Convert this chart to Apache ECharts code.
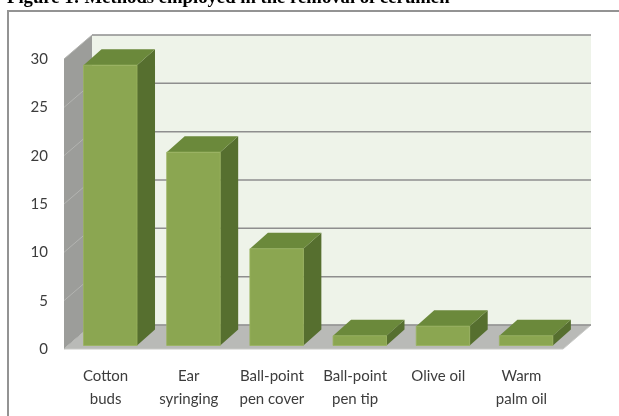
<!DOCTYPE html>
<html>
<head>
<meta charset="utf-8">
<script src="https://cdn.jsdelivr.net/npm/echarts@6/dist/echarts.min.js"></script>
<style>html,body{margin:0;padding:0;background:#fff;}#c{width:619px;height:416px;}</style>
</head>
<body>
<div id="c"></div>
<script>
var categories = ['Cotton\nbuds', 'Ear\nsyringing', 'Ball-point\npen cover', 'Ball-point\npen tip', 'Olive oil', 'Warm\npalm oil'];
var values = [29, 20, 10, 1, 2, 1];
var yTicks = [0, 5, 10, 15, 20, 25, 30];
var titleText = 'Figure 1: Methods employed in the removal of cerumen';

var DEPTH_X = 28, DEPTH_Y = -24;      // wall depth
var BAR_DX = 18, BAR_DY = -16;        // bar depth
var BAR_FRONT_DY = -3.5;

var chart = echarts.init(document.getElementById('c'), null, {renderer: 'canvas'});

function wallsRender(params, api) {
  var cs = params.coordSys;
  var y0 = api.coord([0, 0])[1];
  var yT = api.coord([0, 30])[1];
  var xL = cs.x, xR = cs.x + cs.width;
  return {
    type: 'group',
    children: [
      { type: 'polygon', shape: { points: [[xL + DEPTH_X, yT + DEPTH_Y], [xR + DEPTH_X, yT + DEPTH_Y], [xR + DEPTH_X, y0 + DEPTH_Y], [xL + DEPTH_X, y0 + DEPTH_Y]] },
        style: { fill: '#eef3e9' } },
      { type: 'polygon', shape: { points: [[xL, yT], [xL + DEPTH_X, yT + DEPTH_Y], [xL + DEPTH_X, y0 + DEPTH_Y], [xL, y0]] },
        style: { fill: '#9c9d9a' } },
      { type: 'polygon', shape: { points: [[xL, y0], [xL + DEPTH_X, y0 + DEPTH_Y], [xR + DEPTH_X, y0 + DEPTH_Y], [xR, y0]] },
        style: { fill: '#b9bab7', stroke: '#c9cac7', lineWidth: 1 } }
    ]
  };
}

function gridRender(params, api) {
  var cs = params.coordSys;
  var y = api.coord([0, api.value(1)])[1];
  var xL = cs.x, xR = cs.x + cs.width;
  return {
    type: 'group',
    children: [
      { type: 'line', shape: { x1: xL + DEPTH_X, y1: y + DEPTH_Y, x2: xR + DEPTH_X, y2: y + DEPTH_Y },
        style: { stroke: '#8e8e8e', lineWidth: 1.5 } },
      { type: 'line', shape: { x1: xL, y1: y, x2: xL + DEPTH_X, y2: y + DEPTH_Y },
        style: { stroke: '#b3b4b1', lineWidth: 1 } }
    ]
  };
}

function barRender(params, api) {
  var c0 = api.coord([api.value(0), 0]);
  var c1 = api.coord([api.value(0), api.value(1)]);
  var band = api.size([1, 0])[0];
  var w = band * 0.643;
  var xl = c0[0] - band * 0.265;
  var xr = xl + w;
  var yb = c0[1] + BAR_FRONT_DY;
  var yt = c1[1] + BAR_FRONT_DY;
  return {
    type: 'group',
    children: [
      { type: 'polygon', shape: { points: [[xr, yt], [xr + BAR_DX, yt + BAR_DY], [xr + BAR_DX, yb + BAR_DY], [xr, yb]] },
        style: { fill: '#566f2f' } },
      { type: 'polygon', shape: { points: [[xl, yt], [xl + BAR_DX, yt + BAR_DY], [xr + BAR_DX, yt + BAR_DY], [xr, yt]] },
        style: { fill: '#6b893b' } },
      { type: 'rect', shape: { x: xl, y: yt, width: w, height: yb - yt },
        style: { fill: '#8ba651', stroke: '#99b45e', lineWidth: 0.8 } }
    ]
  };
}

var option = {
  animation: false,
  backgroundColor: '#ffffff',
  grid: { left: 64, right: 56, top: 59, bottom: 67, containLabel: false },
  xAxis: {
    type: 'category',
    data: categories,
    axisLine: { show: false },
    axisTick: { show: false },
    splitLine: { show: false },
    axisLabel: { interval: 0, margin: 16, fontFamily: 'Lato', fontSize: 15, lineHeight: 23, color: '#3c3c3c' }
  },
  yAxis: {
    type: 'value',
    min: 0, max: 30, interval: 5,
    axisLine: { show: false },
    axisTick: { show: false },
    splitLine: { show: false },
    axisLabel: { margin: 16, fontFamily: 'Lato', fontSize: 15, color: '#3c3c3c' }
  },
  series: [
    { type: 'custom', coordinateSystem: 'cartesian2d', renderItem: wallsRender, data: [[0, 0]], z: 1, silent: true, clip: false },
    { type: 'custom', coordinateSystem: 'cartesian2d', renderItem: gridRender, data: yTicks.map(function (v) { return [0, v]; }), z: 2, silent: true, clip: false },
    { type: 'custom', coordinateSystem: 'cartesian2d', renderItem: barRender, data: values.map(function (v, i) { return [i, v]; }), z: 3, clip: false }
  ],
  graphic: [
    { type: 'rect', shape: { x: 8, y: 11, width: 700, height: 500 }, style: { fill: null, stroke: '#939393', lineWidth: 2 }, z: 0 },
    { type: 'text', x: 7, y: -1.5, style: { text: titleText, fontFamily: 'Liberation Serif', fontWeight: 'bold', fontSize: 18.7, fill: '#000', verticalAlign: 'middle', align: 'left' }, z: 10 }
  ]
};
chart.setOption(option);
</script>
</body>
</html>
